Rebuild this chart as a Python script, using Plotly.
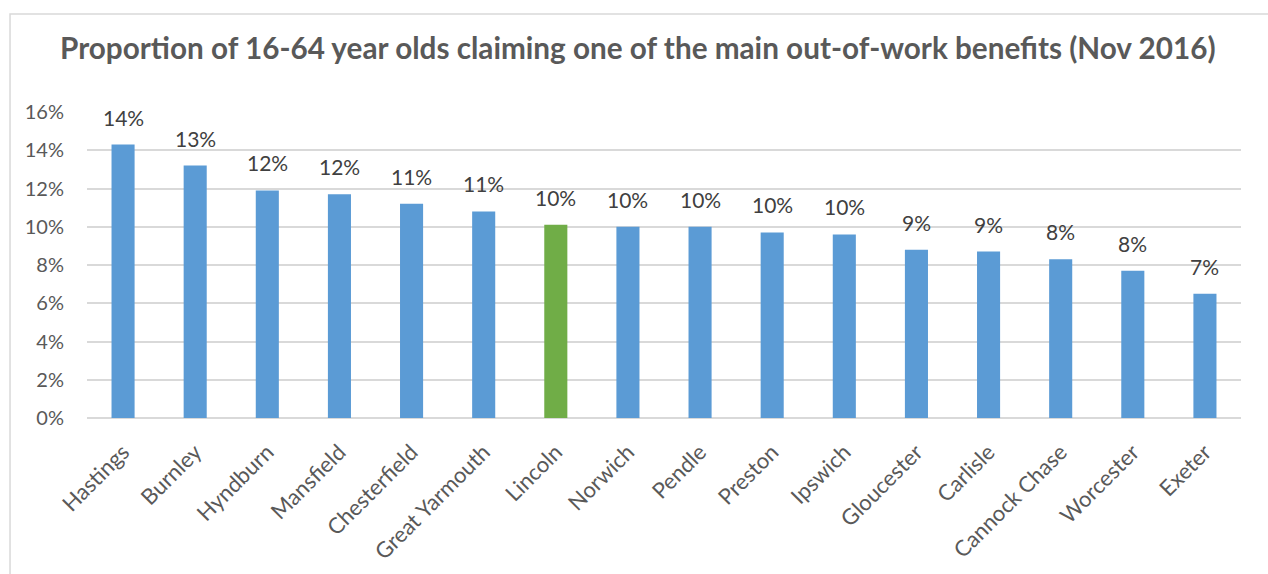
import plotly.graph_objects as go

# Share of 16-64 year olds on main out-of-work benefits, Nov 2016 (percent)
areas = ["Hastings", "Burnley", "Hyndburn", "Mansfield", "Chesterfield",
         "Great Yarmouth", "Lincoln", "Norwich", "Pendle", "Preston",
         "Ipswich", "Gloucester", "Carlisle", "Cannock Chase", "Worcester",
         "Exeter"]
claim_pct = [14.3, 13.2, 11.9, 11.7, 11.2, 10.8, 10.1, 10.0, 10.0, 9.7,
             9.6, 8.8, 8.7, 8.3, 7.7, 6.5]
highlight = "Lincoln"

y_ticks = [0, 2, 4, 6, 8, 10, 12, 14, 16]
y_tick_labels = [f"{t}%" for t in y_ticks]

BLUE = "#5B9BD5"
GREEN = "#70AD47"
GRID = "#D9D9D9"
FONT = "Lato"

colors = [GREEN if a == highlight else BLUE for a in areas]


def pct_label(v):
    # round half up, as the spreadsheet does
    return f"{int(v + 0.5)}%"


fig = go.Figure(
    go.Bar(
        x=areas,
        y=claim_pct,
        marker=dict(color=colors, line=dict(width=0)),
        hoverinfo="x+y",
    )
)

for a, v in zip(areas, claim_pct):
    fig.add_annotation(
        x=a, y=v, text=pct_label(v), showarrow=False,
        yanchor="bottom", yshift=13,
        font=dict(family=FONT, size=21, color="#404040"),
    )

# outer chart border (open on the right and bottom)
fig.add_shape(
    type="rect", xref="paper", yref="paper",
    x0=-0.0667, x1=1.2, y0=-0.8, y1=1.3203,
    line=dict(color=GRID, width=1.5), fillcolor="rgba(0,0,0,0)", layer="below",
)

fig.update_layout(
    width=1268,
    height=574,
    margin=dict(l=87, r=27, t=112, b=156, pad=0),
    paper_bgcolor="white",
    plot_bgcolor="white",
    bargap=0.68,
    showlegend=False,
    title=dict(
        text="<b>Proportion of 16-64 year olds claiming one of the main out-of-work benefits (Nov 2016)</b>",
        x=0.503, xref="container", xanchor="center",
        y=1 - 49 / 574, yref="container", yanchor="middle",
        font=dict(family=FONT, size=29.7, color="#595959"),
    ),
    xaxis=dict(
        tickangle=-45,
        tickfont=dict(family=FONT, size=22, color="#595959"),
        showgrid=False,
        showline=False,
        ticks="",
        ticklabelstandoff=16,
        automargin=False,
    ),
    yaxis=dict(
        range=[0, 16],
        tickmode="array",
        tickvals=y_ticks,
        ticktext=y_tick_labels,
        tickfont=dict(family=FONT, size=20, color="#595959"),
        showgrid=True,
        gridcolor=GRID,
        gridwidth=1.5,
        zeroline=True,
        zerolinecolor=GRID,
        zerolinewidth=2,
        showline=False,
        ticks="",
        ticklabelstandoff=22,
        automargin=False,
    ),
)

fig.write_html("out.html")
